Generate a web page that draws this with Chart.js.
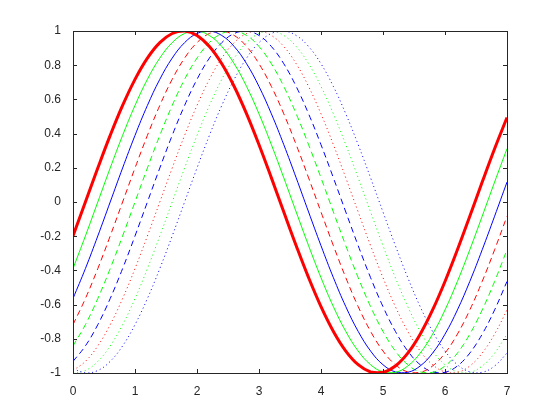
<!DOCTYPE html>
<html>
<head>
<meta charset="utf-8">
<script src="https://cdn.jsdelivr.net/npm/chart.js@4"></script>
<style>
  html, body { margin: 0; padding: 0; background: #fff; }
  #wrap { width: 560px; height: 420px; }
</style>
</head>
<body>
<div id="wrap"><canvas id="chart" width="560" height="420"></canvas></div>
<script>
// x samples (0 .. 7, step 0.2)
const xs = [0, 0.2, 0.4, 0.6, 0.8, 1, 1.2, 1.4, 1.6, 1.8, 2, 2.2, 2.4, 2.6, 2.8, 3, 3.2, 3.4,
  3.6, 3.8, 4, 4.2, 4.4, 4.6, 4.8, 5, 5.2, 5.4, 5.6, 5.8, 6, 6.2, 6.4, 6.6, 6.8, 7];

// values, one array per curve
const redThick = [-0.1987, 0, 0.1987, 0.3894, 0.5646, 0.7174, 0.8415, 0.9320, 0.9854, 0.9996, 0.9738, 0.9093,
  0.8085, 0.6755, 0.5155, 0.3350, 0.1411, -0.0584, -0.2555, -0.4425, -0.6119, -0.7568, -0.8716, -0.9516,
  -0.9937, -0.9962, -0.9589, -0.8835, -0.7728, -0.6313, -0.4646, -0.2794, -0.0831, 0.1165, 0.3115, 0.4941];
const greenSolid = [-0.3894, -0.1987, 0, 0.1987, 0.3894, 0.5646, 0.7174, 0.8415, 0.9320, 0.9854, 0.9996, 0.9738,
  0.9093, 0.8085, 0.6755, 0.5155, 0.3350, 0.1411, -0.0584, -0.2555, -0.4425, -0.6119, -0.7568, -0.8716,
  -0.9516, -0.9937, -0.9962, -0.9589, -0.8835, -0.7728, -0.6313, -0.4646, -0.2794, -0.0831, 0.1165, 0.3115];
const blueSolid = [-0.5646, -0.3894, -0.1987, 0, 0.1987, 0.3894, 0.5646, 0.7174, 0.8415, 0.9320, 0.9854, 0.9996,
  0.9738, 0.9093, 0.8085, 0.6755, 0.5155, 0.3350, 0.1411, -0.0584, -0.2555, -0.4425, -0.6119, -0.7568,
  -0.8716, -0.9516, -0.9937, -0.9962, -0.9589, -0.8835, -0.7728, -0.6313, -0.4646, -0.2794, -0.0831, 0.1165];
const redDashed = [-0.7174, -0.5646, -0.3894, -0.1987, 0, 0.1987, 0.3894, 0.5646, 0.7174, 0.8415, 0.9320, 0.9854,
  0.9996, 0.9738, 0.9093, 0.8085, 0.6755, 0.5155, 0.3350, 0.1411, -0.0584, -0.2555, -0.4425, -0.6119,
  -0.7568, -0.8716, -0.9516, -0.9937, -0.9962, -0.9589, -0.8835, -0.7728, -0.6313, -0.4646, -0.2794, -0.0831];
const greenDashed = [-0.8415, -0.7174, -0.5646, -0.3894, -0.1987, 0, 0.1987, 0.3894, 0.5646, 0.7174, 0.8415, 0.9320,
  0.9854, 0.9996, 0.9738, 0.9093, 0.8085, 0.6755, 0.5155, 0.3350, 0.1411, -0.0584, -0.2555, -0.4425,
  -0.6119, -0.7568, -0.8716, -0.9516, -0.9937, -0.9962, -0.9589, -0.8835, -0.7728, -0.6313, -0.4646, -0.2794];
const blueDashed = [-0.9320, -0.8415, -0.7174, -0.5646, -0.3894, -0.1987, 0, 0.1987, 0.3894, 0.5646, 0.7174, 0.8415,
  0.9320, 0.9854, 0.9996, 0.9738, 0.9093, 0.8085, 0.6755, 0.5155, 0.3350, 0.1411, -0.0584, -0.2555,
  -0.4425, -0.6119, -0.7568, -0.8716, -0.9516, -0.9937, -0.9962, -0.9589, -0.8835, -0.7728, -0.6313, -0.4646];
const redDotted = [-0.9854, -0.9320, -0.8415, -0.7174, -0.5646, -0.3894, -0.1987, 0, 0.1987, 0.3894, 0.5646, 0.7174,
  0.8415, 0.9320, 0.9854, 0.9996, 0.9738, 0.9093, 0.8085, 0.6755, 0.5155, 0.3350, 0.1411, -0.0584,
  -0.2555, -0.4425, -0.6119, -0.7568, -0.8716, -0.9516, -0.9937, -0.9962, -0.9589, -0.8835, -0.7728, -0.6313];
const greenDotted = [-0.9996, -0.9854, -0.9320, -0.8415, -0.7174, -0.5646, -0.3894, -0.1987, 0, 0.1987, 0.3894, 0.5646,
  0.7174, 0.8415, 0.9320, 0.9854, 0.9996, 0.9738, 0.9093, 0.8085, 0.6755, 0.5155, 0.3350, 0.1411,
  -0.0584, -0.2555, -0.4425, -0.6119, -0.7568, -0.8716, -0.9516, -0.9937, -0.9962, -0.9589, -0.8835, -0.7728];
const blueDotted = [-0.9738, -0.9996, -0.9854, -0.9320, -0.8415, -0.7174, -0.5646, -0.3894, -0.1987, 0, 0.1987, 0.3894,
  0.5646, 0.7174, 0.8415, 0.9320, 0.9854, 0.9996, 0.9738, 0.9093, 0.8085, 0.6755, 0.5155, 0.3350,
  0.1411, -0.0584, -0.2555, -0.4425, -0.6119, -0.7568, -0.8716, -0.9516, -0.9937, -0.9962, -0.9589, -0.8835];

const xTicks = [0, 1, 2, 3, 4, 5, 6, 7];
const yTicks = [-1, -0.8, -0.6, -0.4, -0.2, 0, 0.2, 0.4, 0.6, 0.8, 1];

const RED = '#ff0000', GREEN = '#00ff00', BLUE = '#0000ff';
const DASH = [6, 4], DOT = [1, 3];

function toPoints(ys) {
  return xs.map((x, i) => ({ x: x, y: ys[i] }));
}

function line(ys, color, width, dash) {
  return {
    data: toPoints(ys),
    borderColor: color,
    borderWidth: width,
    borderDash: dash || [],
    pointRadius: 0,
    tension: 0.4,
    fill: false
  };
}

// MATLAB-like box with inward ticks
const boxPlugin = {
  id: 'box',
  afterDraw(chart) {
    const { ctx, chartArea: a, scales } = chart;
    ctx.save();
    ctx.strokeStyle = '#262626';
    ctx.lineWidth = 1;
    ctx.strokeRect(Math.round(a.left) + 0.5, Math.round(a.top) + 0.5,
      Math.round(a.right - a.left), Math.round(a.bottom - a.top));
    ctx.beginPath();
    const len = 4;
    xTicks.forEach(v => {
      const px = Math.round(scales.x.getPixelForValue(v)) + 0.5;
      ctx.moveTo(px, a.bottom); ctx.lineTo(px, a.bottom - len);
      ctx.moveTo(px, a.top); ctx.lineTo(px, a.top + len);
    });
    yTicks.forEach(v => {
      const py = Math.round(scales.y.getPixelForValue(v)) + 0.5;
      ctx.moveTo(a.left, py); ctx.lineTo(a.left + len, py);
      ctx.moveTo(a.right, py); ctx.lineTo(a.right - len, py);
    });
    ctx.stroke();
    ctx.restore();
  }
};

new Chart(document.getElementById('chart'), {
  type: 'line',
  data: {
    datasets: [
      line(redThick, RED, 3),
      line(greenSolid, GREEN, 1),
      line(blueSolid, BLUE, 1),
      line(redDashed, RED, 1, DASH),
      line(greenDashed, GREEN, 1, DASH),
      line(blueDashed, BLUE, 1, DASH),
      line(redDotted, RED, 1, DOT),
      line(greenDotted, GREEN, 1, DOT),
      line(blueDotted, BLUE, 1, DOT)
    ]
  },
  options: {
    responsive: false,
    animation: false,
    layout: { padding: { top: 31, right: 53, left: 0, bottom: 0 } },
    plugins: { legend: { display: false }, tooltip: { enabled: false } },
    scales: {
      x: {
        type: 'linear',
        min: 0, max: 7,
        afterBuildTicks: s => { s.ticks = xTicks.map(v => ({ value: v })); },
        afterFit: s => { s.height = 47; },
        grid: { display: false },
        border: { display: false },
        ticks: {
          color: '#262626',
          padding: 3,
          maxRotation: 0,
          font: { family: "'Liberation Sans', Arial, sans-serif", size: 12 }
        }
      },
      y: {
        type: 'linear',
        min: -1, max: 1,
        afterBuildTicks: s => { s.ticks = yTicks.map(v => ({ value: v })); },
        afterFit: s => { s.width = 73; },
        grid: { display: false },
        border: { display: false },
        ticks: {
          color: '#262626',
          padding: 4,
          callback: v => String(Math.round(v * 10) / 10),
          font: { family: "'Liberation Sans', Arial, sans-serif", size: 12 }
        }
      }
    }
  },
  plugins: [boxPlugin]
});
</script>
</body>
</html>
